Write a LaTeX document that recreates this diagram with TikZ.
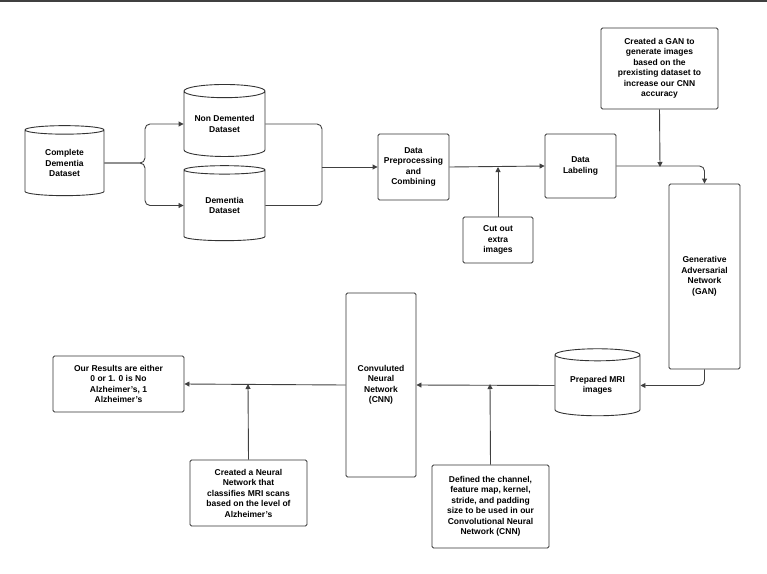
\documentclass[tikz,border=0pt]{standalone}
\usepackage{fontspec}
\setmainfont{Liberation Sans}
\usetikzlibrary{shapes.geometric,arrows.meta}
\begin{document}
\begin{tikzpicture}[x=1pt,y=-1pt,
  every node/.style={font=\fontsize{8.5}{10.5}\selectfont\bfseries, align=center, text=black},
  box/.style={draw=black!80, line width=0.9pt, rounded corners=1.5pt, inner sep=0pt},
  cyl/.style={draw=black!80, line width=0.9pt, cylinder, shape border rotate=90, aspect=0.22, inner sep=0pt},
  con/.style={draw=black!75, line width=0.9pt, rounded corners=5pt},
  arr/.style={con, -{Triangle[length=5pt,width=5pt]}}]
\useasboundingbox (0,0) rectangle (767,573);
\fill[black!75] (0,0) rectangle (767,1.5);
\node[cyl, minimum width=79, minimum height=70] (cd) at (64.5,163) {Complete\\Dementia\\Dataset};
\node[cyl, minimum width=81, minimum height=72] (nd) at (224.5,124) {Non Demented\\Dataset};
\node[cyl, minimum width=81, minimum height=75] (dd) at (224.5,205.5) {Dementia\\Dataset};
\node[box, minimum width=71, minimum height=66] (pp) at (413.5,167) {Data\\Preprocessing\\and\\Combining};
\node[box, minimum width=71, minimum height=64] (dl) at (580.5,166) {Data\\Labeling};
\node[box, minimum width=70, minimum height=46] (co) at (498,240) {Cut out\\extra\\images};
\node[box, minimum width=117, minimum height=81] (gn) at (659.5,68.5) {Created a GAN to\\generate images\\based on the\\prexisting dataset to\\increase our CNN\\accuracy};
\node[box, minimum width=71, minimum height=185] (gan) at (704.5,276.5) {Generative\\Adversarial\\Network\\(GAN)};
\node[cyl, minimum width=85, minimum height=67] (mri) at (597.5,385.5) {Prepared MRI\\images};
\node[box, minimum width=70, minimum height=184] (cnn) at (381,385) {Convuluted\\Neural\\Network\\(CNN)};
\node[box, minimum width=131, minimum height=56] (res) at (118.5,384) {Our Results are either\\0 or 1. 0 is No\\Alzheimer's, 1\\Alzheimer's};
\node[box, minimum width=117, minimum height=66] (nn) at (248.5,493) {Created a Neural\\Network that\\classifies MRI scans\\based on the level of\\Alzheimer's};
\node[box, minimum width=117, minimum height=83] (def) at (490.5,506.5) {Defined the channel,\\feature map, kernel,\\stride, and padding\\size to be used in our\\Convolutional Neural\\Network (CNN)};
\coordinate (j1) at (322,167);
\coordinate (j2) at (498,167);
\coordinate (j3) at (660,167);
\coordinate (j4) at (490,384);
\coordinate (j5) at (248,384);
\draw[arr] (cd.east) -- (145,163) |- (nd.west);
\draw[arr] (cd.east) -- (145,163) |- (dd.west);
\draw[con] (nd.east) -| (j1);
\draw[con] (dd.east) -| (j1);
\draw[arr] (j1) -- (pp.west);
\draw[arr] (pp.east) -- (dl.west);
\draw[arr] (co.north) -- (j2);
\draw[arr] (dl.east) -| (gan.north);
\draw[arr] (gn.south) -- (j3);
\draw[arr] (gan.south) |- (mri.east);
\draw[arr] (mri.west) -- (cnn.east);
\draw[arr] (def.north) -- (j4);
\draw[arr] (cnn.west) -- (res.east);
\draw[arr] (nn.north) -- (j5);
\end{tikzpicture}
\end{document}
